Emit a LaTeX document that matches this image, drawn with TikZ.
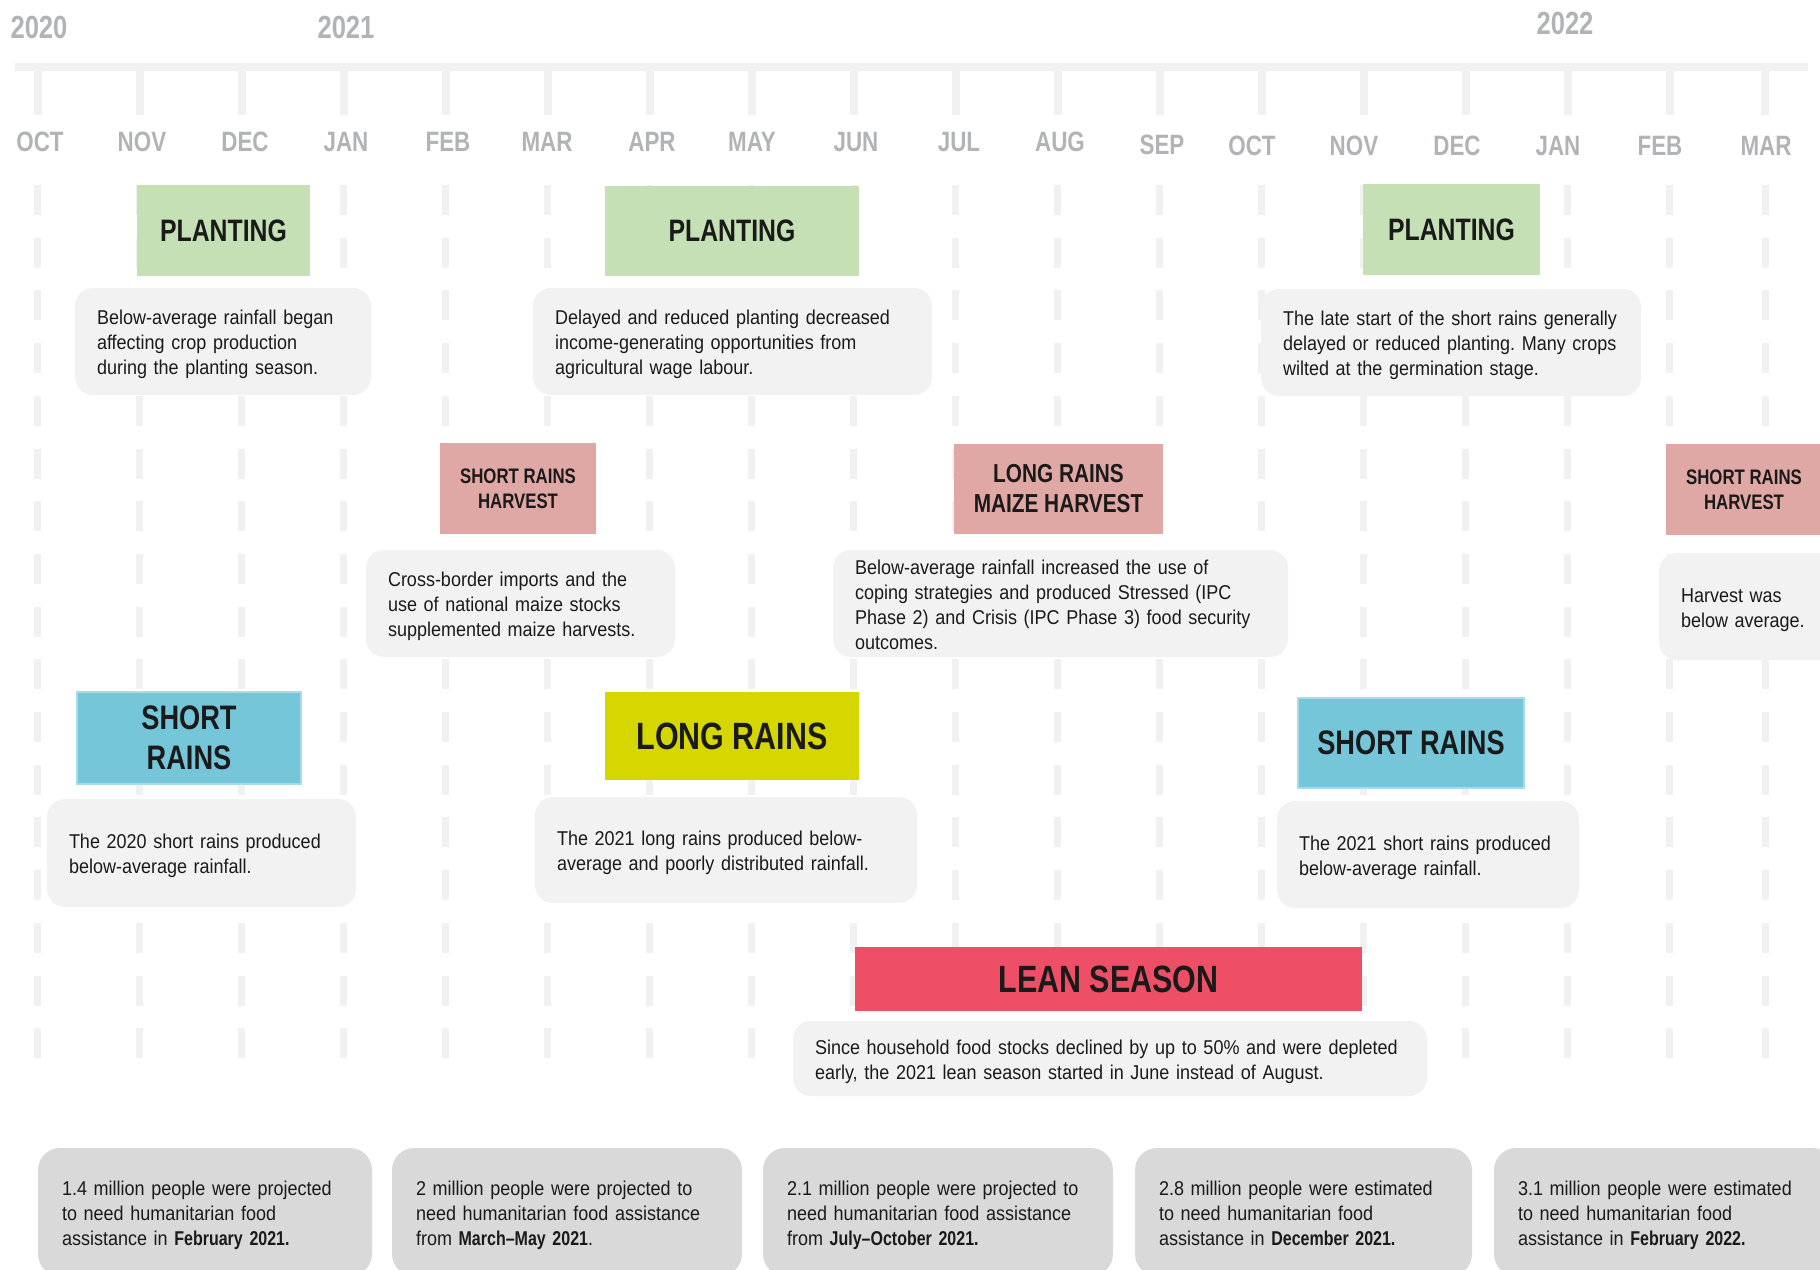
\documentclass[tikz,border=0pt]{standalone}
\usepackage{fontspec}
\setmainfont{Liberation Sans}[FakeStretch=0.9]
\newfontfamily\condbold{Liberation Sans Bold}[FakeStretch=0.8]
\frenchspacing
\newcommand{\hl}[1]{{\condbold #1}}
\newcommand{\txtlines}[1]{\raisebox{-1.5pt}[\height][\depth]{\begin{tabular}{@{}l@{}}#1\end{tabular}}}
\definecolor{gridgray}{HTML}{F1F1F1}
\definecolor{monthgray}{HTML}{B1B3B6}
\definecolor{plantgreen}{HTML}{C5E0B4}
\definecolor{harvestpink}{HTML}{E0A8A5}
\definecolor{rainblue}{HTML}{76C6D9}
\definecolor{rainblueline}{HTML}{A8DCE8}
\definecolor{rainyellow}{HTML}{D7D700}
\definecolor{leanred}{HTML}{EE4F66}
\definecolor{notegray}{HTML}{F2F2F2}
\definecolor{boxgray}{HTML}{D9D9D9}
\definecolor{ink}{HTML}{1A1A1A}
\begin{document}
\begin{tikzpicture}[x=0.5pt,y=-0.5pt,
    month/.style={text=monthgray, inner sep=0pt, font=\condbold\fontsize{14}{16}\selectfont},
    year/.style={text=monthgray, inner sep=0pt, font=\condbold\fontsize{16}{18}\selectfont},
    tag/.style 2 args={inner sep=0pt, align=center, text=ink, minimum width=#1, minimum height=#2},
    note/.style 2 args={fill=notegray, rounded corners=9pt, inner xsep=11pt, inner ysep=0pt,
        align=left, text=ink, text width=#1, minimum height=#2, font=\fontsize{10}{12.5}\selectfont},
    figure/.style={fill=boxgray, rounded corners=11pt, inner xsep=12pt, inner ysep=0pt,
        align=left, text=ink, text width=#1, minimum height=64pt, font=\fontsize{10}{12.5}\selectfont}]
  \useasboundingbox (0,0) rectangle (1820,1269);
  \clip (0,0) rectangle (1820,1269);

  % time axis
  \draw[gridgray, line width=4pt] (15,67) -- (1808,67);
  \foreach \x in {37.5,139.5,...,1669.5,1765}
    \draw[gridgray, line width=4pt] (\x,67) -- (\x,115);
  \foreach \x in {37.5,139.5,...,1669.5,1765}
    \draw[gridgray, line width=3.5pt, dash pattern=on 15pt off 11.35pt] (\x,185) -- (\x,1059);

  \node[year] (y2020) at (39,27) {2020};
  \node[year] (y2021) at (346,27) {2021};
  \node[year] (y2022) at (1565,23) {2022};
  \foreach \m/\x/\y in {OCT/40/142, NOV/142/142, DEC/245/142, JAN/346/142, FEB/448/142,
      MAR/547/142, APR/652/142, MAY/752/142, JUN/856/142, JUL/959/142, AUG/1060/142,
      SEP/1162/145, OCT/1252/146, NOV/1354/146, DEC/1457/146, JAN/1558/146, FEB/1660/146,
      MAR/1766/146}
    \node[month] (m\x) at (\x,\y) {\m};

  % planting
  \node[tag={86.5pt}{45.5pt}, fill=plantgreen, font=\condbold\fontsize{15.5}{18}\selectfont] (plant1) at (223.5,230.5) {PLANTING};
  \node[tag={127pt}{45pt}, fill=plantgreen, font=\condbold\fontsize{15.5}{18}\selectfont] (plant2) at (732,230.5) {PLANTING};
  \node[tag={88.5pt}{45.5pt}, fill=plantgreen, font=\condbold\fontsize{15.5}{18}\selectfont] (plant3) at (1451.5,229.5) {PLANTING};
  \node[note={126pt}{53.5pt}] (plant1note) at (223,341.5) {\txtlines{Below-average rainfall began\\affecting crop production\\during the planting season.}};
  \node[note={177.5pt}{53.5pt}] (plant2note) at (732.5,341.5) {\txtlines{Delayed and reduced planting decreased\\income-generating opportunities from\\agricultural wage labour.}};
  \node[note={168pt}{53.5pt}] (plant3note) at (1451,342.5) {\txtlines{The late start of the short rains generally\\delayed or reduced planting. Many crops\\wilted at the germination stage.}};

  % harvests
  \node[tag={78pt}{45.5pt}, fill=harvestpink, font=\condbold\fontsize{10.5}{12.5}\selectfont] (harvest1) at (518,488.5) {SHORT RAINS\\HARVEST};
  \node[tag={104.5pt}{45pt}, fill=harvestpink, font=\condbold\fontsize{13}{15}\selectfont] (harvest2) at (1058.5,489) {LONG RAINS\\MAIZE HARVEST};
  \node[tag={78pt}{45.5pt}, fill=harvestpink, font=\condbold\fontsize{10.5}{12.5}\selectfont] (harvest3) at (1744,489.5) {SHORT RAINS\\HARVEST};
  \node[note={132.5pt}{53.5pt}] (harvest1note) at (520.5,603.5) {\txtlines{Cross-border imports and the\\use of national maize stocks\\supplemented maize harvests.}};
  \node[note={205.5pt}{53.5pt}] (harvest2note) at (1060.5,603.5) {\txtlines{Below-average rainfall increased the use of\\coping strategies and produced Stressed (IPC\\Phase 2) and Crisis (IPC Phase 3) food security\\outcomes.}};
  \node[note={78pt}{53.5pt}] (harvest3note) at (1759,606.5) {\txtlines{Harvest was\\below average.}};

  % rains
  \node[tag={112pt}{46pt}, fill=rainblue, draw=rainblueline, line width=1pt, font=\condbold\fontsize{17}{20}\selectfont] (rain1) at (189,738) {SHORT\\RAINS};
  \node[tag={127pt}{44pt}, fill=rainyellow, font=\condbold\fontsize{19}{22}\selectfont] (rain2) at (732,736) {LONG RAINS};
  \node[tag={113pt}{45pt}, fill=rainblue, draw=rainblueline, line width=1pt, font=\condbold\fontsize{17}{20}\selectfont] (rain3) at (1411,743) {SHORT RAINS};
  \node[note={132.5pt}{54pt}] (rain1note) at (201.5,853) {\txtlines{The 2020 short rains produced\\below-average rainfall.}};
  \node[note={169pt}{53pt}] (rain2note) at (726,850) {\txtlines{The 2021 long rains produced below-\\average and poorly distributed rainfall.}};
  \node[note={129pt}{53.5pt}] (rain3note) at (1428,854.5) {\txtlines{The 2021 short rains produced\\below-average rainfall.}};

  % lean season
  \node[tag={253.5pt}{32pt}, fill=leanred, font=\condbold\fontsize{19}{22}\selectfont] (lean) at (1108.5,979) {LEAN SEASON};
  \node[note={295pt}{37.5pt}] (leannote) at (1110,1058.5) {\txtlines{Since household food stocks declined by up to 50\% and were depleted\\early, the 2021 lean season started in June instead of August.}};

  % people in need
  \node[figure=143pt] (need1) at (205,1212) {\txtlines{1.4 million people were projected\\to need humanitarian food\\assistance in \hl{February 2021.}}};
  \node[figure=151pt] (need2) at (567,1212) {\txtlines{2 million people were projected to\\need humanitarian food assistance\\from \hl{March–May 2021}.}};
  \node[figure=151pt] (need3) at (938,1212) {\txtlines{2.1 million people were projected to\\need humanitarian food assistance\\from \hl{July–October 2021.}}};
  \node[figure=144.5pt] (need4) at (1303.5,1212) {\txtlines{2.8 million people were estimated\\to need humanitarian food\\assistance in \hl{December 2021.}}};
  \node[figure=146pt] (need5) at (1664,1212) {\txtlines{3.1 million people were estimated\\to need humanitarian food\\assistance in \hl{February 2022.}}};
\end{tikzpicture}
\end{document}
